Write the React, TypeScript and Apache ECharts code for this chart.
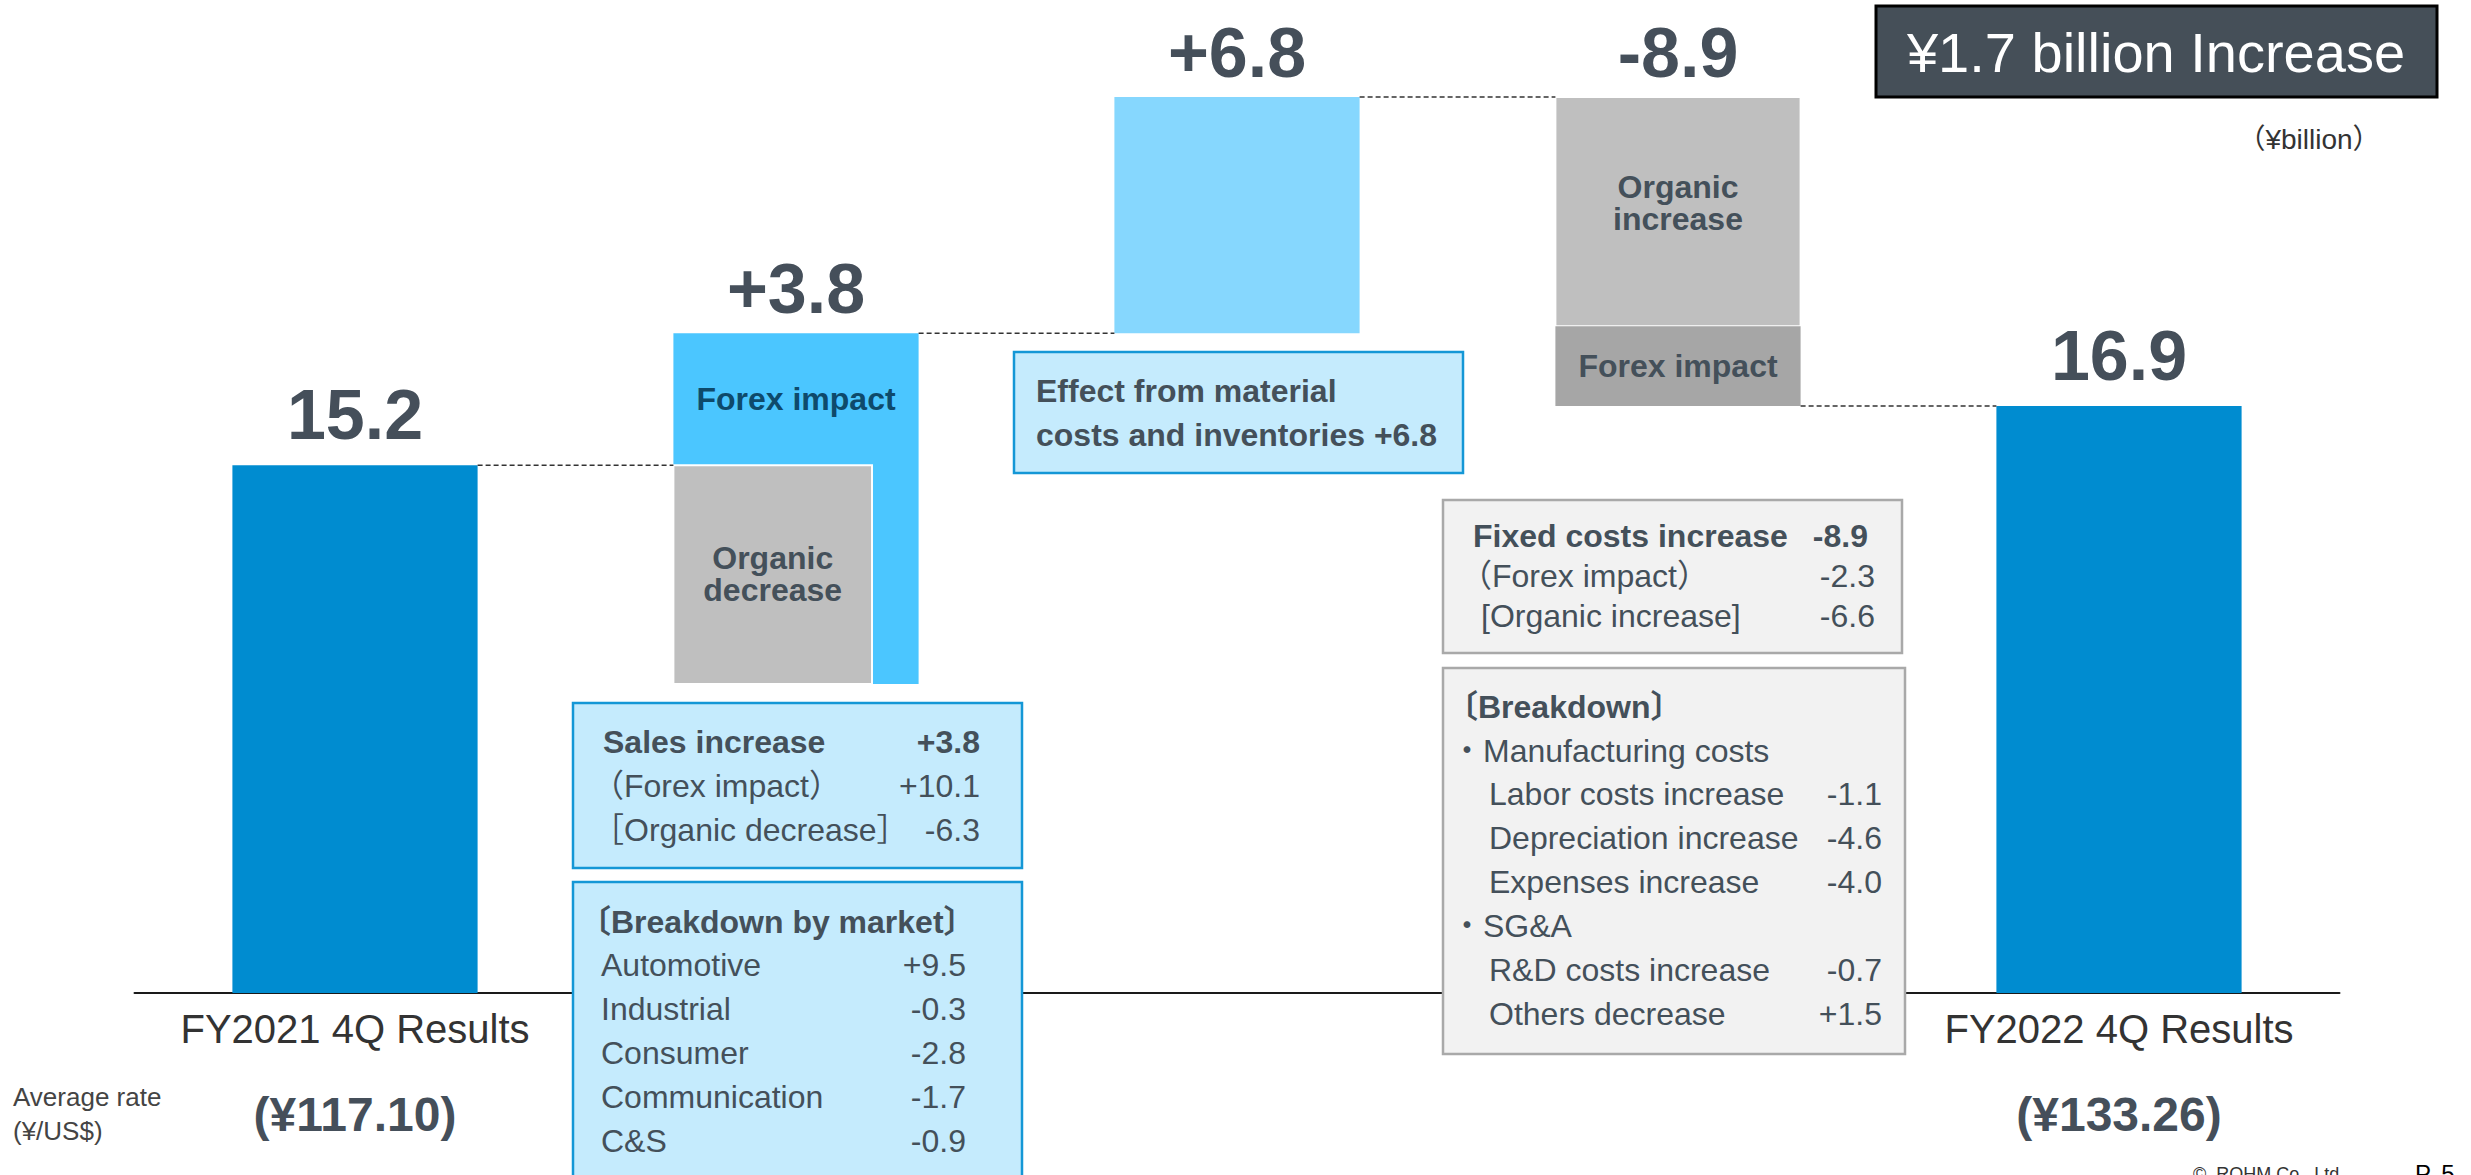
import React, { useEffect, useRef } from "react";
import * as echarts from "echarts";

// ---------- data ----------
const categories = [
  "FY2021 4Q Results",
  "Sales increase",
  "Material costs and inventories",
  "Fixed costs increase",
  "FY2022 4Q Results",
];
const shownCategoryLabels = ["FY2021 4Q Results", "", "", "", "FY2022 4Q Results"];
const averageRates = ["(¥117.10)", "", "", "", "(¥133.26)"];
const averageRateCaption = ["Average rate", "(¥/US$)"];

const startValue = 15.2;
const endValue = 16.9;
const salesOrganic = -6.3;
const salesForex = 10.1;
const materialEffect = 6.8;
const fixedOrganic = -6.6;
const fixedForex = -2.3;

const barValueLabels = ["15.2", "+3.8", "+6.8", "-8.9", "16.9"];
const segmentLabels = ["", "Forex impact", "Organic\ndecrease", "", "Organic\nincrease", "Forex impact", ""];

const headline = "¥1.7 billion Increase";
const unitLabel = "（¥billion）";

const materialLines = ["Effect from material", "costs and inventories +6.8"];

const salesRowLabels = ["Sales increase", "（Forex impact）", "［Organic decrease］"];
const salesRowValues = ["+3.8", "+10.1", "-6.3"];

const marketTitle = "〔Breakdown by market〕";
const marketNames = ["Automotive", "Industrial", "Consumer", "Communication", "C&S"];
const marketValues = ["+9.5", "-0.3", "-2.8", "-1.7", "-0.9"];

const fixedRowLabels = ["Fixed costs increase", "（Forex impact）", "[Organic increase]"];
const fixedRowValues = ["-8.9", "-2.3", "-6.6"];

const breakdownTitle = "〔Breakdown〕";
const manufacturingHeader = "・Manufacturing costs";
const manufacturingItems = ["Labor costs increase", "Depreciation increase", "Expenses increase"];
const manufacturingValues = ["-1.1", "-4.6", "-4.0"];
const sgaHeader = "・SG&A";
const sgaItems = ["R&D costs increase", "Others decrease"];
const sgaValues = ["-0.7", "+1.5"];

const footerCopyright = "©  ROHM Co., Ltd.";
const footerPage = "P. 5";

// ---------- derived waterfall levels ----------
const salesLow = startValue + salesOrganic; // 8.9
const salesTop = salesLow + salesForex; // 19.0
const materialTop = salesTop + materialEffect; // 25.8
const fixedMid = materialTop + fixedOrganic; // 19.2
const fixedLow = fixedMid + fixedForex; // 16.9

// [category, low, high, kind, labelLow, labelHigh]
const segments = [
  [0, 0, startValue, 0, 0, startValue],
  [1, salesLow, salesTop, 1, startValue, salesTop],
  [1, salesLow, startValue, 2, salesLow, startValue],
  [2, salesTop, materialTop, 3, salesTop, materialTop],
  [3, fixedMid, materialTop, 4, fixedMid, materialTop],
  [3, fixedLow, fixedMid, 5, fixedLow, fixedMid],
  [4, 0, endValue, 0, 0, endValue],
];
const barTops = [startValue, salesTop, materialTop, materialTop, endValue];
const connectorLevels = [startValue, salesTop, materialTop, endValue];

// ---------- styles ----------
const FONT = '"Liberation Sans", Arial, "Noto Sans CJK JP", sans-serif';
const TEXT_DARK = "#44505A";
const BAR_FRAC = 0.556;
const kindStyles = [
  { color: "#008CD0", widthFrac: 1, stroke: null, labelColor: TEXT_DARK, labelDy: 0 },
  { color: "#4BC6FF", widthFrac: 1, stroke: null, labelColor: "#0E4A6B", labelDy: 0 },
  { color: "#BFBFBF", widthFrac: 0.81, stroke: "#FFFFFF", labelColor: TEXT_DARK, labelDy: -1 },
  { color: "#86D7FE", widthFrac: 1, stroke: null, labelColor: TEXT_DARK, labelDy: 0 },
  { color: "#BFBFBF", widthFrac: 1, stroke: "#FFFFFF", labelColor: TEXT_DARK, labelDy: -9 },
  { color: "#A6A6A6", widthFrac: 1, stroke: null, labelColor: TEXT_DARK, labelDy: 0 },
];
const BLUE_FILL = "#C5EBFD";
const BLUE_STROKE = "#1497D6";
const GRAY_FILL = "#F2F2F2";
const GRAY_STROKE = "#A9A9A9";

function T(x: number, y: number, text: string, o: any = {}) {
  const align = o.align || "left";
  return {
    type: "text",
    x,
    y,
    z: 101,
    silent: true,
    style: {
      text,
      fill: o.color || TEXT_DARK,
      fontSize: o.size || 32,
      fontWeight: o.bold ? "bold" : "normal",
      fontFamily: FONT,
      align,
      verticalAlign: "middle",
      textAlign: align,
      textVerticalAlign: "middle",
    },
  };
}
function R(x: number, y: number, w: number, h: number, fill: string, stroke: string, lw: number) {
  return {
    type: "rect",
    z: 100,
    silent: true,
    shape: { x, y, width: w, height: h },
    style: { fill, stroke, lineWidth: lw },
  };
}

function buildGraphics() {
  const els: any[] = [];
  // headline
  els.push(R(1876, 6, 561, 91, "#454F58", "#000000", 3));
  els.push(T(2156, 52, headline, { size: 56, color: "#FFFFFF", align: "center" }));
  els.push(T(2309, 139, unitLabel, { size: 28, color: "#333333", align: "center" }));

  // material box
  els.push(R(1014, 352, 449, 121, BLUE_FILL, BLUE_STROKE, 2.5));
  materialLines.forEach((t, i) => els.push(T(1036, 391 + i * 44, t, { bold: true })));

  // sales box
  els.push(R(573, 703, 449, 165, BLUE_FILL, BLUE_STROKE, 2.5));
  salesRowLabels.forEach((t, i) => {
    const y = 742 + i * 44;
    els.push(T(i === 0 ? 603 : 592, y, t, { bold: i === 0 }));
    els.push(T(980, y, salesRowValues[i], { bold: i === 0, align: "right" }));
  });

  // market box
  els.push(R(573, 882, 449, 320, BLUE_FILL, BLUE_STROKE, 2.5));
  els.push(T(579, 922, marketTitle, { bold: true }));
  marketNames.forEach((t, i) => {
    const y = 965 + i * 44;
    els.push(T(601, y, t));
    els.push(T(966, y, marketValues[i], { align: "right" }));
  });

  // fixed costs box
  els.push(R(1443, 500, 459, 153, GRAY_FILL, GRAY_STROKE, 2.5));
  const fixedX = [1473, 1460, 1481];
  fixedRowLabels.forEach((t, i) => {
    const y = 536 + i * 40;
    els.push(T(fixedX[i], y, t, { bold: i === 0 }));
    els.push(T(i === 0 ? 1868 : 1875, y, fixedRowValues[i], { bold: i === 0, align: "right" }));
  });

  // breakdown box
  els.push(R(1443, 668, 462, 386, GRAY_FILL, GRAY_STROKE, 2.5));
  els.push(T(1446, 707, breakdownTitle, { bold: true }));
  els.push(T(1451, 751, manufacturingHeader));
  manufacturingItems.forEach((t, i) => {
    const y = 794 + i * 44;
    els.push(T(1489, y, t));
    els.push(T(1882, y, manufacturingValues[i], { align: "right" }));
  });
  els.push(T(1451, 926, sgaHeader));
  sgaItems.forEach((t, i) => {
    const y = 970 + i * 44;
    els.push(T(1489, y, t));
    els.push(T(1882, y, sgaValues[i], { align: "right" }));
  });

  // average rate caption
  els.push(T(13, 1097, averageRateCaption[0], { size: 26, color: "#444444" }));
  els.push(T(13, 1131, averageRateCaption[1], { size: 26, color: "#444444" }));

  // footer (cut by the bottom edge, as in the slide)
  els.push(T(2193, 1174, footerCopyright, { size: 18, color: "#333333" }));
  els.push(T(2415, 1173, footerPage, { size: 24, color: "#000000" }));
  return els;
}

export default function App() {
  const ref = useRef<HTMLDivElement>(null);
  useEffect(() => {
    if (!ref.current) return;
    const chart = echarts.init(ref.current, undefined, { renderer: "svg" });
    const option: any = {
      animation: false,
      backgroundColor: "#FFFFFF",
      grid: { left: 134.5, right: 131.5, top: 20.6, bottom: 182 },
      xAxis: {
        type: "category",
        data: categories,
        axisLine: { show: true, lineStyle: { color: "#1A1A1A", width: 2 } },
        axisTick: { show: false },
        axisLabel: {
          interval: 0,
          margin: 6,
          formatter: (_v: string, idx: number) =>
            shownCategoryLabels[idx]
              ? `{n|${shownCategoryLabels[idx]}}\n{r|${averageRates[idx]}}`
              : "",
          rich: {
            n: { fontSize: 40, fontFamily: FONT, color: "#333333", lineHeight: 60 },
            r: { fontSize: 48, fontFamily: FONT, fontWeight: "bold", color: "#454F5A", lineHeight: 110 },
          },
        },
      },
      yAxis: { type: "value", min: 0, max: 28, show: false },
      graphic: { elements: buildGraphics() },
      series: [
        {
          type: "custom",
          name: "waterfall",
          clip: false,
          encode: { x: 0, y: [1, 2] },
          data: segments,
          renderItem: (params: any, api: any) => {
            const cat = api.value(0);
            const low = api.value(1);
            const high = api.value(2);
            const kind = api.value(3);
            const st = kindStyles[kind];
            const band = api.size([1, 0])[0];
            const bw = band * BAR_FRAC;
            const top = api.coord([cat, high]);
            const bot = api.coord([cat, low]);
            const w = bw * st.widthFrac;
            const x0 = top[0] - bw / 2;
            const children: any[] = [
              {
                type: "rect",
                shape: { x: x0, y: top[1], width: w, height: bot[1] - top[1] },
                style: { fill: st.color, stroke: st.stroke || "none", lineWidth: st.stroke ? 2 : 0 },
              },
            ];
            const text = segmentLabels[params.dataIndex];
            if (text) {
              const ly = (api.coord([cat, api.value(4)])[1] + api.coord([cat, api.value(5)])[1]) / 2 + st.labelDy;
              children.push({
                type: "text",
                x: x0 + w / 2,
                y: ly,
                style: {
                  text,
                  fill: st.labelColor,
                  fontSize: 32,
                  fontWeight: "bold",
                  fontFamily: FONT,
                  lineHeight: 32,
                  align: "center",
                  verticalAlign: "middle",
                  textAlign: "center",
                  textVerticalAlign: "middle",
                },
              });
            }
            return { type: "group", children };
          },
        },
        {
          type: "custom",
          name: "connectors",
          clip: false,
          encode: { x: 0, y: 1 },
          data: connectorLevels.map((v, i) => [i, v]),
          renderItem: (_p: any, api: any) => {
            const cat = api.value(0);
            const band = api.size([1, 0])[0];
            const bw = band * BAR_FRAC;
            const p = api.coord([cat, api.value(1)]);
            return {
              type: "line",
              shape: { x1: p[0] + bw / 2, y1: p[1], x2: p[0] + band - bw / 2, y2: p[1] },
              style: { stroke: "#333333", lineWidth: 1.5, lineDash: [5, 3] },
            };
          },
        },
        {
          type: "custom",
          name: "values",
          clip: false,
          encode: { x: 0, y: 1 },
          data: barTops.map((v, i) => [i, v]),
          renderItem: (params: any, api: any) => {
            const cat = api.value(0);
            const p = api.coord([cat, api.value(1)]);
            const isTotal = cat === 0 || cat === categories.length - 1;
            return {
              type: "text",
              x: p[0],
              y: p[1] - (isTotal ? 50 : 44),
              style: {
                text: barValueLabels[params.dataIndex],
                fill: "#454F5A",
                fontSize: 70,
                fontWeight: "bold",
                fontFamily: FONT,
                align: "center",
                verticalAlign: "middle",
                textAlign: "center",
                textVerticalAlign: "middle",
              },
            };
          },
        },
      ],
    };
    chart.setOption(option);
    return () => chart.dispose();
  }, []);
  return (
    <div
      ref={ref}
      style={{ position: "fixed", left: 0, top: 0, width: 2471, height: 1175, background: "#fff" }}
    />
  );
}
